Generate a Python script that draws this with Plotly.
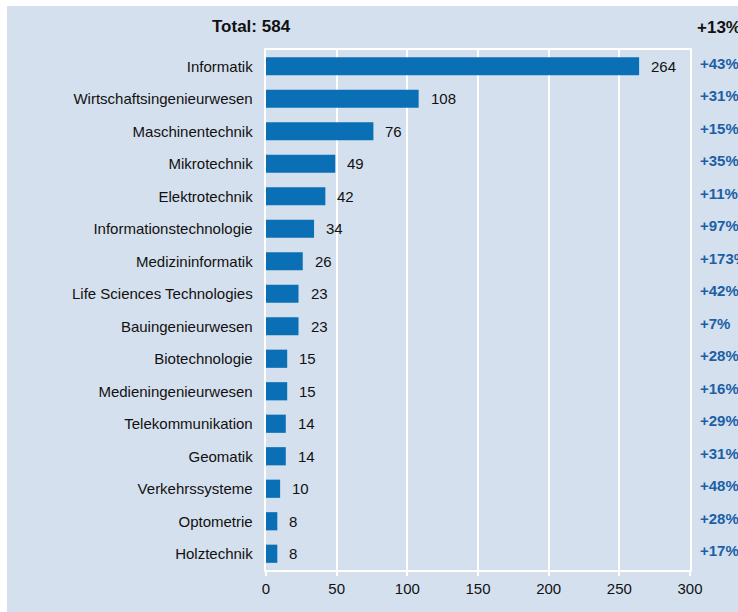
import plotly.graph_objects as go

# Studiengaenge, values and change vs previous year
categories = ["Informatik", "Wirtschaftsingenieurwesen", "Maschinentechnik", "Mikrotechnik",
              "Elektrotechnik", "Informationstechnologie", "Medizininformatik",
              "Life Sciences Technologies", "Bauingenieurwesen", "Biotechnologie",
              "Medieningenieurwesen", "Telekommunikation", "Geomatik", "Verkehrssysteme",
              "Optometrie", "Holztechnik"]
values = [264, 108, 76, 49, 42, 34, 26, 23, 23, 15, 15, 14, 14, 10, 8, 8]
changes = ["+43%", "+31%", "+15%", "+35%", "+11%", "+97%", "+173%", "+42%",
           "+7%", "+28%", "+16%", "+29%", "+31%", "+48%", "+28%", "+17%"]
total_label = "Total: 584"
total_change = "+13%"
x_ticks = [0, 50, 100, 150, 200, 250, 300]

BG = "#d5e0ee"
BAR = "#0a6fb5"
PCT = "#1c5fa6"
FONT = "Liberation Sans, Arial, sans-serif"

# figure sits 7px from the left and 6px from the top of the page
W, H = 731, 606
L, R, T, B = 259, 48, 44, 42
pw, ph = W - L - R, H - T - B

fig = go.Figure(go.Bar(
    x=values,
    y=categories,
    orientation="h",
    marker=dict(color=BAR, line=dict(width=0)),
    hoverinfo="none"))

# value labels right of the bars
for c, v in zip(categories, values):
    fig.add_annotation(x=v, y=c, text=str(v), showarrow=False, xanchor="left",
                       xshift=10, font=dict(size=15, color="#111111", family=FONT))

# change labels in the right column
for c, p in zip(categories, changes):
    fig.add_annotation(x=(691 - L) / pw, xref="paper", y=c, yshift=3, text="<b>" + p + "</b>",
                       showarrow=False, xanchor="left",
                       font=dict(size=15, color=PCT, family=FONT))

fig.add_annotation(x=(244 - L) / pw, xref="paper", y=(H - B - 21) / ph, yref="paper",
                   text="<b>" + total_label + "</b>", showarrow=False,
                   xanchor="center", yanchor="middle",
                   font=dict(size=17, color="#111111", family=FONT))
fig.add_annotation(x=(688 - L) / pw, xref="paper", y=(H - B - 22) / ph, yref="paper",
                   text="<b>" + total_change + "</b>", showarrow=False,
                   xanchor="left", yanchor="middle",
                   font=dict(size=17, color="#111111", family=FONT))

fig.update_layout(
    width=W, height=H,
    margin=dict(l=L, r=R, t=T, b=B, autoexpand=False),
    paper_bgcolor=BG,
    plot_bgcolor=BG,
    bargap=0.44,
    showlegend=False,
    font=dict(family=FONT, size=15, color="#111111"),
    xaxis=dict(range=[0, 300], tickvals=x_ticks, showgrid=True, gridcolor="white",
               gridwidth=2, zeroline=False, showline=True, linecolor="white",
               linewidth=2, mirror=True, ticks="outside", tickcolor="white",
               ticklen=4, tickwidth=2, tickfont=dict(size=15), fixedrange=True),
    yaxis=dict(autorange="reversed", showgrid=False, showline=True, linecolor="white",
               linewidth=2, mirror=True, ticks="", ticksuffix="  ",
               tickfont=dict(size=15), fixedrange=True),
)

fig.write_html("out.html",
               post_script="document.body.style.margin='6px 0 0 7px';"
                           "document.body.style.overflow='hidden';")
